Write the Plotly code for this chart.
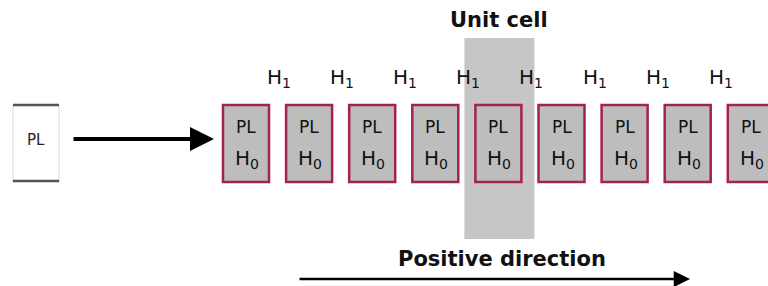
import plotly.graph_objects as go

# ---- data ----
cell_index = [0, 1, 2, 3, 4, 5, 6, 7, 8]
cell_top_label = ["PL"] * 9
cell_bottom_label = ["H<sub>0</sub>"] * 9
coupling_index = [0, 1, 2, 3, 4, 5, 6, 7]
coupling_label = ["H<sub>1</sub>"] * 8
lead_label = "PL"
unit_cell_index = 4
title_text = "Unit cell"
direction_text = "Positive direction"

# ---- layout params ----
X0, STEP, W = 223, 63.1, 46
Y_TOP, Y_BOT = 105, 182
FONT = "DejaVu Sans"

fig = go.Figure()
shapes = []
annotations = []

# unit cell highlight (behind)
ux = X0 + STEP * unit_cell_index
shapes.append(dict(type="rect", xref="x", yref="y", x0=ux - 11, x1=ux + W + 13,
                   y0=38, y1=239, fillcolor="#C6C6C6", line=dict(width=0), layer="below"))

# lead box
shapes.append(dict(type="rect", xref="x", yref="y", x0=13, x1=59, y0=105, y1=181,
                   fillcolor="white", line=dict(color="#D8D8D8", width=1)))
shapes.append(dict(type="line", xref="x", yref="y", x0=13, x1=59, y0=105, y1=105,
                   line=dict(color="#555555", width=2.5)))
shapes.append(dict(type="line", xref="x", yref="y", x0=13, x1=59, y0=181, y1=181,
                   line=dict(color="#555555", width=2.5)))
annotations.append(dict(x=36, y=140, xref="x", yref="y", text=lead_label, showarrow=False,
                        font=dict(family=FONT, size=15, color="#222")))

# cells
for i, t, b in zip(cell_index, cell_top_label, cell_bottom_label):
    x = X0 + STEP * i
    shapes.append(dict(type="rect", xref="x", yref="y", x0=x, x1=x + W, y0=Y_TOP, y1=Y_BOT,
                       fillcolor="#BDBDBD", line=dict(color="#A3224E", width=2.5)))
    annotations.append(dict(x=x + W / 2, y=127, xref="x", yref="y", text=t, showarrow=False,
                            font=dict(family=FONT, size=17, color="#111")))
    annotations.append(dict(x=x + W / 2 + 1, y=159, xref="x", yref="y", text=b, showarrow=False,
                            font=dict(family=FONT, size=20, color="#111")))

# couplings
for i, t in zip(coupling_index, coupling_label):
    x = X0 + W + STEP * i + 10
    annotations.append(dict(x=x, y=78, xref="x", yref="y", text=t, showarrow=False,
                            font=dict(family=FONT, size=20, color="#111")))

# titles
annotations.append(dict(x=499, y=20, xref="x", yref="y", text="<b>%s</b>" % title_text,
                        showarrow=False, font=dict(family=FONT, size=21, color="#111")))
annotations.append(dict(x=502, y=259, xref="x", yref="y", text="<b>%s</b>" % direction_text,
                        showarrow=False, font=dict(family=FONT, size=21, color="#111")))

# arrows
annotations.append(dict(x=214, y=139, ax=72, ay=139, xref="x", yref="y", axref="x", ayref="y",
                        text="", showarrow=True, arrowhead=2, arrowsize=1.2, arrowwidth=4,
                        arrowcolor="black"))
annotations.append(dict(x=690, y=279, ax=298, ay=279, xref="x", yref="y", axref="x", ayref="y",
                        text="", showarrow=True, arrowhead=2, arrowsize=1.3, arrowwidth=2.5,
                        arrowcolor="black"))

fig.update_layout(
    width=768, height=286, margin=dict(l=0, r=0, t=0, b=0),
    paper_bgcolor="white", plot_bgcolor="white",
    xaxis=dict(range=[0, 768], visible=False, fixedrange=True),
    yaxis=dict(range=[286, 0], visible=False, fixedrange=True),
    shapes=shapes, annotations=annotations, showlegend=False,
)
fig.write_html("out.html", config={"displayModeBar": False},
               post_script="document.body.style.margin='0';document.body.style.overflow='hidden';")
